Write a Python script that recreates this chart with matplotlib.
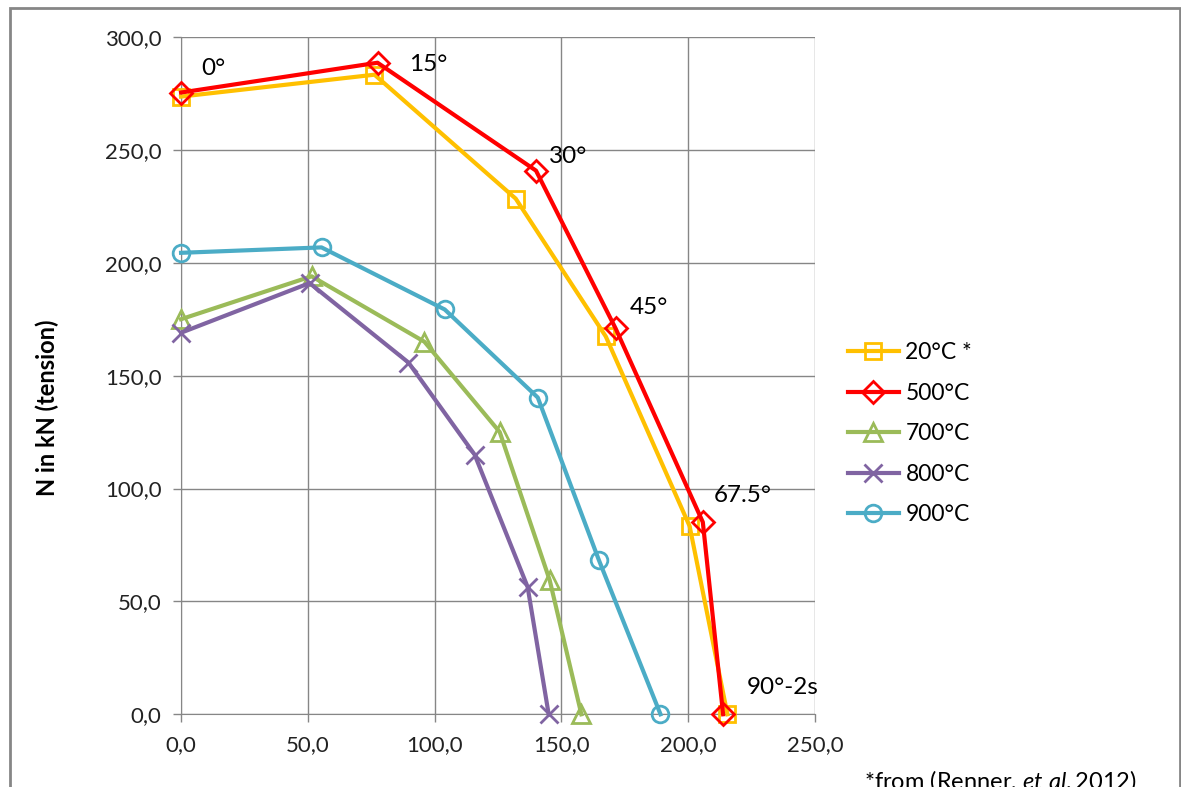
import matplotlib.pyplot as plt
from matplotlib.patches import Rectangle

plt.rcParams['font.family'] = ['Lato', 'DejaVu Sans']
plt.rcParams['mathtext.fontset'] = 'custom'
plt.rcParams['mathtext.it'] = 'Lato:italic'
plt.rcParams['mathtext.rm'] = 'Lato'

# displacement (x) and axial force N (y)
x_20 = [0.0, 76.3, 132.0, 167.5, 200.6, 215.5]
n_20 = [273.6, 283.3, 228.4, 167.4, 83.3, 0.0]
x_500 = [0.0, 77.5, 140.0, 171.4, 205.8, 213.8]
n_500 = [275.4, 288.6, 240.8, 170.9, 85.1, 0.0]
x_700 = [0.0, 51.5, 96.0, 125.7, 145.4, 157.9]
n_700 = [175.0, 194.0, 165.0, 125.0, 59.4, 0.0]
x_800 = [0.0, 50.7, 89.7, 115.8, 136.7, 145.0]
n_800 = [169.0, 191.0, 155.8, 115.0, 56.4, 0.0]
x_900 = [0.0, 55.4, 104.0, 140.7, 164.8, 189.1]
n_900 = [204.4, 206.8, 179.3, 140.3, 68.3, 0.0]

series = [
    ('20°C *', x_20, n_20, '#FFC000', 's'),
    ('500°C', x_500, n_500, '#FF0000', 'D'),
    ('700°C', x_700, n_700, '#9BBB59', '^'),
    ('800°C', x_800, n_800, '#8064A2', 'x'),
    ('900°C', x_900, n_900, '#4BACC6', 'o'),
]

angle_labels = ['0°', '15°', '30°', '45°', '67.5°', '90°-2s']
angle_x = [8.0, 90.0, 145.0, 177.0, 210.0, 223.0]
angle_y = [286.0, 288.0, 247.0, 180.0, 97.0, 12.0]

xticks = [0, 50, 100, 150, 200, 250]
yticks = [0, 50, 100, 150, 200, 250, 300]

fig = plt.figure(figsize=(11.81, 7.87), dpi=100)
ax = fig.add_axes([0.1533, 0.0924, 0.5367, 0.8606])

grey = '#868686'
sizes = {'s': 12, 'D': 11, '^': 13, 'x': 13, 'o': 12}
for name, xs, ys, col, mk in series:
    ax.plot(xs, ys, color=col, lw=3, marker=mk, ms=sizes[mk], mew=2,
            fillstyle='none', label=name, zorder=3, clip_on=False)

for lab, tx, ty in zip(angle_labels, angle_x, angle_y):
    ax.text(tx, ty, lab, fontsize=17.5, ha='left', va='center')

ax.set_xlim(0, 250)
ax.set_ylim(0, 300)
ax.set_xticks(xticks)
ax.set_yticks(yticks)
ax.set_xticklabels([f'{v:.1f}'.replace('.', ',') for v in xticks])
ax.set_yticklabels([f'{v:.1f}'.replace('.', ',') for v in yticks])
ax.tick_params(axis='both', labelsize=16, colors='#222222', length=6,
               width=1, color=grey)
ax.tick_params(axis='x', pad=9)
ax.tick_params(axis='y', pad=8)
ax.grid(True, color=grey, lw=1)
ax.set_axisbelow(True)
for s in ['top', 'right']:
    ax.spines[s].set_visible(False)
for s in ['left', 'bottom']:
    ax.spines[s].set_color(grey)

fig.text(47 / 1181, 1 - 408 / 787, 'N in kN (tension)', rotation=90,
         fontsize=17, fontweight='bold', ha='center', va='center')

ax.legend(loc='center left', bbox_to_anchor=(1.02, 0.414), frameon=False,
          fontsize=16.5, handlelength=2.2, labelspacing=0.85,
          handletextpad=0.3)

fig.text(864 / 1181, 1 - 768 / 787, r'*from (Renner, $\it{et\ al.}$2012)',
         fontsize=17, ha='left', va='top')

fig.patches.append(Rectangle((10 / 1181, -0.05), 1170 / 1181, 1.05 - 8 / 787,
                             transform=fig.transFigure, fill=False,
                             edgecolor=grey, lw=2))

fig.savefig('out.png', dpi=100)
